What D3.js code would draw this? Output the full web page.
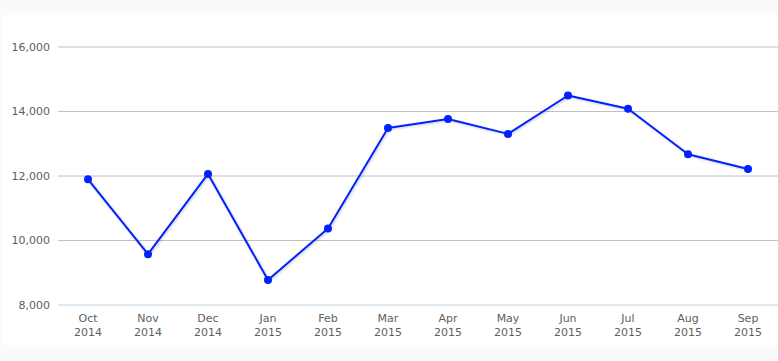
<!DOCTYPE html>
<html>
<head>
<meta charset="utf-8">
<script src="https://cdn.jsdelivr.net/npm/d3@7"></script>
<style>
  html, body { margin: 0; padding: 0; background: #fafafa; }
  svg { display: block; }
  text { font-family: "DejaVu Sans", "Lucida Grande", sans-serif; }
</style>
</head>
<body>
<svg id="chart" width="778" height="361"></svg>
<script>
const months = ["Oct", "Nov", "Dec", "Jan", "Feb", "Mar", "Apr", "May", "Jun", "Jul", "Aug", "Sep"];
const years  = ["2014", "2014", "2014", "2015", "2015", "2015", "2015", "2015", "2015", "2015", "2015", "2015"];
const values = [11880, 9560, 12050, 8760, 10360, 13470, 13750, 13290, 14480, 14070, 12660, 12200];
const yTicks = [8000, 10000, 12000, 14000, 16000];

const svg = d3.select("#chart");
const W = 778, H = 361;
const margin = { left: 58, right: 0, top: 46.5, bottom: 56.5 };

svg.append("rect").attr("x", 2).attr("y", 15).attr("width", W - 2).attr("height", 330).attr("fill", "#ffffff");

const x = d3.scaleBand().domain(d3.range(months.length)).range([margin.left, W - margin.right]);
const y = d3.scaleLinear().domain([8000, 16000]).range([H - margin.bottom, margin.top]);

const defs = svg.append("defs");
const f = defs.append("filter").attr("id", "shadow").attr("x", "-10%").attr("y", "-10%").attr("width", "120%").attr("height", "130%");
f.append("feDropShadow").attr("dx", 1).attr("dy", 1).attr("stdDeviation", 1.2).attr("flood-color", "#000").attr("flood-opacity", 0.2);

// gridlines
const yAxis = d3.axisLeft(y).tickValues(yTicks).tickSize(-(W - margin.left - margin.right)).tickFormat(d3.format(",")).tickPadding(8);
const gy = svg.append("g").attr("transform", `translate(${margin.left},0)`).call(yAxis);
gy.select(".domain").remove();
gy.selectAll(".tick line").attr("stroke", d => d === 8000 ? "#c0d0e0" : "#c0c0c0").attr("stroke-width", 1);
gy.selectAll(".tick text").attr("fill", "#606060").style("font-size", "11px").attr("x", -8);

// x axis labels
const gx = svg.append("g");
months.forEach((m, i) => {
  const cx = x(i) + x.bandwidth() / 2;
  const t = gx.append("text").attr("x", cx).attr("y", y(8000) + 17).attr("text-anchor", "middle").attr("fill", "#606060").style("font-size", "11px");
  t.append("tspan").attr("x", cx).attr("dy", 0).text(m);
  t.append("tspan").attr("x", cx).attr("dy", 14).text(years[i]);
});

const cxOf = i => x(i) + x.bandwidth() / 2;
const line = d3.line().x((d, i) => cxOf(i)).y(d => y(d));

svg.append("path").datum(values).attr("d", line).attr("fill", "none").attr("stroke", "#0022ff").attr("stroke-width", 2).attr("stroke-linejoin", "round").attr("filter", "url(#shadow)");

svg.append("g").selectAll("circle").data(values).join("circle")
  .attr("cx", (d, i) => cxOf(i)).attr("cy", d => y(d)).attr("r", 4).attr("fill", "#0022ff");
</script>
</body>
</html>
